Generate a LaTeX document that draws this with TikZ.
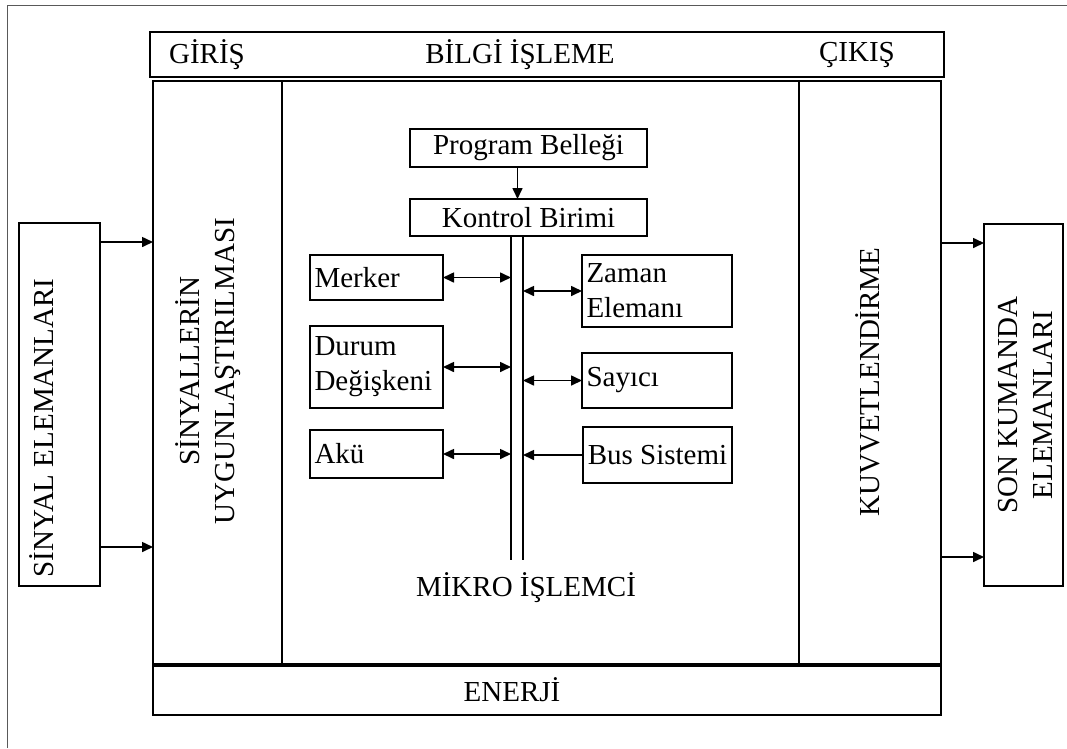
\documentclass[tikz,border=0pt]{standalone}
\usepackage{fontspec}
\setmainfont{Liberation Serif}
\usepackage{tikz}
\usetikzlibrary{positioning,calc,arrows.meta}

\tikzset{
  kutu/.style={draw, line width=1.8pt, inner sep=0pt, outer sep=0pt},
  solkutu/.style={kutu, anchor=north west, inner xsep=4.5pt, align=left},
  ok/.style={-{Triangle[length=11pt,width=10pt]}, line width=1.6pt},
  ciftok/.style={{Triangle[length=11pt,width=10pt]}-{Triangle[length=11pt,width=10pt]}, line width=1.6pt},
}

\begin{document}
\begin{tikzpicture}[x=1pt, y=-1pt, font=\fontsize{29}{35}\selectfont]
  \useasboundingbox (0,0) rectangle (1067,748);
  % Frame
  \draw[black!65, line width=1pt] (7,748) -- (7,5) -- (1067,5);

  % Header
  \node[kutu, anchor=north west, minimum width=794pt, minimum height=45pt] (baslik) at (150,32) {};
  \node (giris) at (207,55) {GİRİŞ};
  \node (bilgi) at (520,55) {BİLGİ İŞLEME};
  \node (cikis) at (857,55) {ÇIKIŞ};

  % Columns
  \node[kutu, anchor=north west, minimum width=129pt, minimum height=583pt] (girissutun) at (153,81) {};
  \node[kutu, anchor=north west, minimum width=517pt, minimum height=583pt] (islemesutun) at (282,81) {};
  \node[kutu, anchor=north west, minimum width=142pt, minimum height=583pt] (cikissutun) at (799,81) {};
  \node[rotate=90, align=center] (uygun) at (208,371) {SİNYALLERİN\\UYGUNLAŞTIRILMASI};
  \node[rotate=90] (kuvvet) at (868,382) {KUVVETLENDİRME};
  \node (mikro) at (526,588) {MİKRO İŞLEMCİ};

  % Enerji
  \node[kutu, anchor=north west, minimum width=788pt, minimum height=49pt] (enerji) at (153,666) {};
  \node (enerjiyazi) at (512,690) {ENERJİ};

  % Input / output elements
  \node[kutu, anchor=north west, minimum width=81pt, minimum height=363pt] (sinyal) at (19,223) {};
  \node[rotate=90] (sinyalyazi) at (42,428) {SİNYAL ELEMANLARI};
  \node[kutu, anchor=north west, minimum width=79pt, minimum height=362pt] (son) at (984,224) {};
  \node[rotate=90, align=center] (sonyazi) at (1025,405) {SON KUMANDA\\ELEMANLARI};

  % Program memory and control unit
  \node[kutu, anchor=north west, minimum width=237pt, minimum height=38pt] (program) at (410,129) {Program Belleği};
  \node[kutu, anchor=north west, minimum width=237pt, minimum height=37pt] (kontrol) at (410,199) {Kontrol Birimi};
  \draw[ok] ([xshift=-11pt]program.south) -- ([xshift=-11pt]kontrol.north);

  % Bus
  \coordinate (busL) at (511,560);
  \coordinate (busR) at (523,560);
  \draw[line width=1.4pt] (kontrol.south -| busL) -- (busL);
  \draw[line width=1.8pt] (kontrol.south -| busR) -- (busR);

  % Left blocks
  \node[solkutu, text width=124pt, minimum height=45pt] (merker) at (310,255) {Merker};
  \node[solkutu, text width=124pt, minimum height=82pt] (durum) at (310,326) {Durum\\Değişkeni};
  \node[solkutu, text width=124pt, minimum height=48pt] (aku) at (310,430) {Akü};
  % Right blocks
  \node[solkutu, text width=141pt, minimum height=72pt] (zaman) at (582,255) {Zaman\\Elemanı};
  \node[solkutu, text width=141pt, minimum height=55pt] (sayici) at (582,353) {Sayıcı};
  \node[solkutu, minimum width=149pt, minimum height=56pt] (bussis) at (583,427) {Bus Sistemi};

  \draw[ciftok] (merker.east) -- (merker.east -| busL);
  \draw[ciftok] (durum.east) -- (durum.east -| busL);
  \draw[ciftok] (aku.east) -- (aku.east -| busL);
  \draw[ciftok] (zaman.west) -- (zaman.west -| busR);
  \draw[ciftok] (sayici.west) -- (sayici.west -| busR);
  \draw[ok] (bussis.west) -- (bussis.west -| busR);

  % Signals in and out
  \coordinate (giris1) at (0,242);
  \coordinate (giris2) at (0,547);
  \coordinate (cikis1) at (0,243);
  \coordinate (cikis2) at (0,557);
  \draw[ok] (sinyal.east |- giris1) -- (girissutun.west |- giris1);
  \draw[ok] (sinyal.east |- giris2) -- (girissutun.west |- giris2);
  \draw[ok] (cikissutun.east |- cikis1) -- (son.west |- cikis1);
  \draw[ok] (cikissutun.east |- cikis2) -- (son.west |- cikis2);
\end{tikzpicture}
\end{document}
